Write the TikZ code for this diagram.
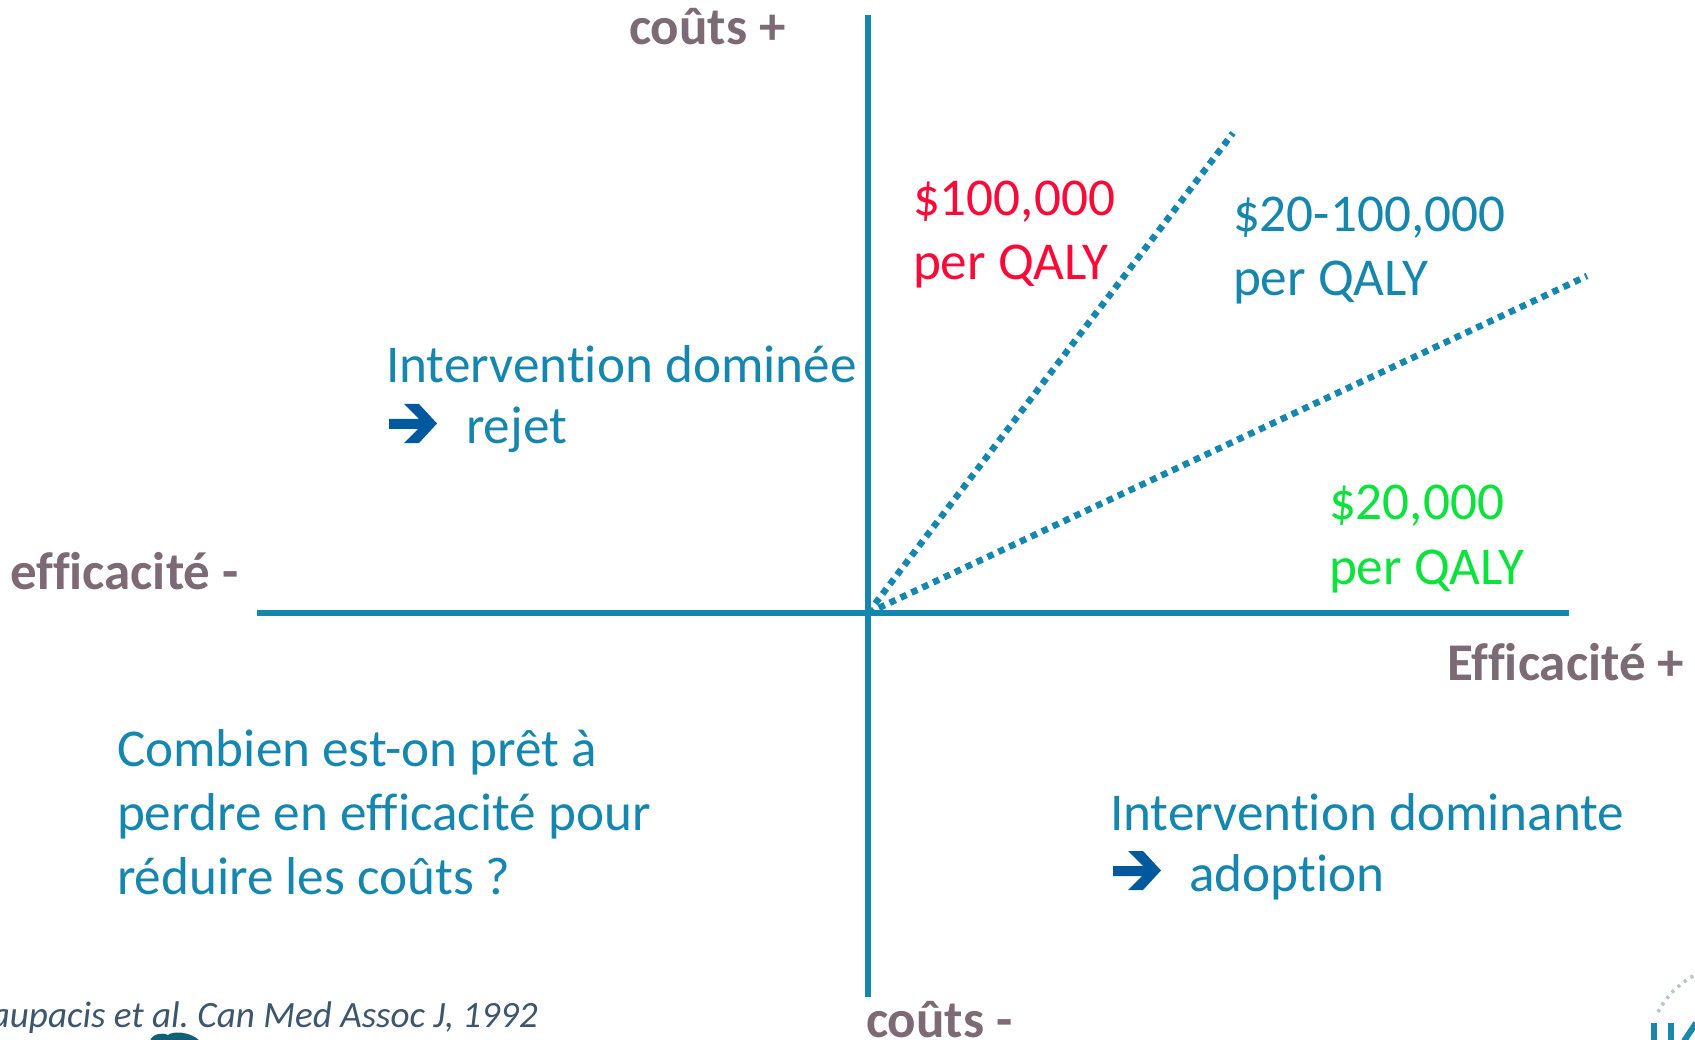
\documentclass[tikz,border=0pt]{standalone}
\usepackage{fontspec}
\setmainfont[Ligatures=NoCommon]{Carlito}
\definecolor{teal1}{HTML}{1586AE}
\definecolor{red1}{HTML}{FB0A37}
\definecolor{green1}{HTML}{0BE23C}
\definecolor{mauve}{HTML}{7C6A75}
\definecolor{cite}{HTML}{3D566E}
\definecolor{arrowblue}{HTML}{00599C}
\definecolor{logoblue}{HTML}{1A88A8}
\definecolor{logogrey}{HTML}{B4C4CC}
\tikzset{
  lbl/.style={anchor=base west,inner sep=0pt,outer sep=0pt,font=\fontsize{53.2}{53.2}\selectfont,text=teal1},
  axlbl/.style={anchor=base west,inner sep=0pt,outer sep=0pt,font=\fontsize{53}{53}\selectfont\bfseries,text=mauve},
  axis/.style={draw=teal1,line width=6pt},
  dots/.style={draw=teal1,line width=6.5pt,dash pattern=on 6.5pt off 5.5pt},
  logopart/.style={draw=logoblue,line width=6pt},
  logoarc/.style={draw=logogrey,line width=3.5pt,dash pattern=on 3pt off 5pt},
  bigarrow/.pic={\fill[arrowblue] (0,15) -- (30,15) -- (15,0) -- (30,0) -- (48,19.5) -- (30,39) -- (15,39) -- (29,25) -- (0,25) -- cycle;}
}
\begin{document}
\frenchspacing
\begin{tikzpicture}[x=1pt,y=-1pt]
\useasboundingbox (0,0) rectangle (1695,1040);
\clip (0,0) rectangle (1695,1040);
\coordinate (top) at (868,15);
\coordinate (bot) at (868,997);
\coordinate (left) at (257,613);
\coordinate (right) at (1569,613);
\coordinate (o) at (868,613);
\coordinate (d1) at (1233,133);
\coordinate (d2) at (1587,276);
\draw[axis] (top) -- (bot);
\draw[axis] (left) -- (right);
\draw[dots] (o) -- (d1);
\draw[dots] (o) -- (d2);
\node[axlbl] (ct) at (629,45) {coûts +};
\node[axlbl] (em) at (10,589) {efficacité -};
\node[axlbl] (ep) at (1447,680) {Efficacité +};
\node[axlbl] (cb) at (866,1037) {coûts -};
\node[lbl,text=red1] (a1) at (913,216) {\$100,000};
\node[lbl,text=red1] (a2) at (913,280) {per QALY};
\node[lbl] (b1) at (1233,232) {\$20-100,000};
\node[lbl] (b2) at (1233,296) {per QALY};
\node[lbl,text=green1] (c1) at (1329,519) {\$20,000};
\node[lbl,text=green1] (c2) at (1329,584) {per QALY};
\node[lbl] (d1t) at (386,383) {Intervention dominée};
\node[lbl] (d2t) at (466,443) {rejet};
\pic at (389,404) {bigarrow};
\node[lbl] (e1) at (117,766) {Combien est-on prêt à};
\node[lbl] (e2) at (117,830) {perdre en efficacité pour};
\node[lbl] (e3) at (117,894) {réduire les coûts ?};
\node[lbl] (f1) at (1110,830) {Intervention dominante};
\node[lbl] (f2) at (1189,891) {adoption};
\pic at (1113,851) {bigarrow};
\node[anchor=base east,inner sep=0pt,font=\fontsize{37.1}{37.1}\selectfont\itshape,text=cite] (src) at (538,1027) {Laupacis et al. Can Med Assoc J, 1992};
% logo fragments cut by the lower edge
\fill[logoblue!70!black] (150,1041) .. controls (152,1034) and (162,1032) .. (168,1035) .. controls (172,1031) and (190,1031) .. (200,1041) -- cycle;
\draw[logoarc] (1658,1012) .. controls (1666,997) and (1678,984) .. (1695,975);
\draw[logopart] (1653.5,1023) -- (1653.5,1041);
\draw[logopart] (1671,1023) -- (1671,1041);
\draw[logopart] (1684,1041) -- (1696,1023);
\end{tikzpicture}
\end{document}
